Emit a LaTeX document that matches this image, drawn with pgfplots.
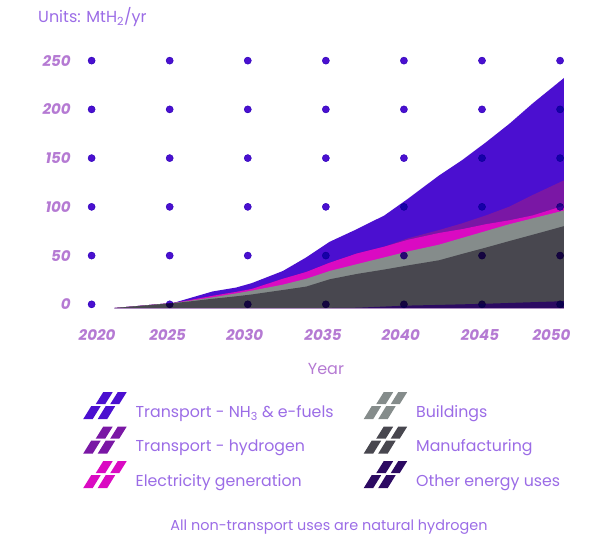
\documentclass[border=0pt]{standalone}
\usepackage{fontspec}
\setmainfont{Poppins}
\usepackage{pgfplots}
\pgfplotsset{compat=1.18}
\definecolor{nh3}{HTML}{4B0FD0}
\definecolor{th2}{HTML}{7A17A5}
\definecolor{elec}{HTML}{DA0AC2}
\definecolor{bld}{HTML}{858C8B}
\definecolor{man}{HTML}{48474F}
\definecolor{oth}{HTML}{2C0A62}
\definecolor{tickc}{HTML}{B57AD3}
\definecolor{textc}{HTML}{9B6CE6}
\definecolor{dotc}{HTML}{4B0FD0}
\pgfplotsset{
  h2icon/.style={legend image code/.code={
    \fill (0pt,-7pt) -- (9.5pt,-7pt) -- (17.5pt,6pt) -- (8pt,6pt) -- cycle;
    \fill (14.5pt,-7pt) -- (24pt,-7pt) -- (32pt,6pt) -- (22.5pt,6pt) -- cycle;
    \fill (12.5pt,8pt) -- (22pt,8pt) -- (29.5pt,20pt) -- (20pt,20pt) -- cycle;
    \fill (27pt,8pt) -- (36pt,8pt) -- (43.5pt,20pt) -- (34.5pt,20pt) -- cycle;
  }}
}
\begin{document}
\begin{tikzpicture}[x=1pt,y=1pt]
\useasboundingbox (0,0) rectangle (612,548);
\begin{axis}[
  at={(79.9pt,235.1pt)}, anchor=south west,
  scale only axis, width=499.7pt, height=258.3pt,
  xmin=2019, xmax=2051, ymin=-5, ymax=260,
  axis line style={draw=none}, tick style={draw=none}, major tick length=0pt,
  xtick={2020.1,2024.62,2029.55,2034.57,2039.54,2044.62,2049.2},
  xticklabels={2020,2025,2030,2035,2040,2045,2050},
  ytick={3.8,53.8,103.8,153.8,203.8,253.8},
  yticklabels={0,50,100,150,200,250},
  ticklabel style={font=\fontsize{15}{15}\selectfont\bfseries\itshape, text=tickc},
  xticklabel style={anchor=base, inner sep=0pt, yshift=-28pt},
  yticklabel style={anchor=east, inner sep=0pt, xshift=-9pt},
  clip=false,
  legend columns=2,
  legend style={at={(0.0062,-0.306)}, anchor=north west, draw=none, fill=none,
    inner sep=0pt, nodes={inner sep=0pt, text=textc, font=\fontsize{15.8}{18}\selectfont},
    column sep=9pt, row sep=7.5pt},
  legend cell align=left,
]
% cumulative tops, drawn from the tallest down
\addplot[fill=nh3, draw=none, forget plot] table {
x y
2021.2 0
2025 5.3
2026 10
2027.5 17
2029 21
2030 25.5
2032 38
2033.5 52
2035 68
2036.75 81
2038.5 95
2040 112
2042 136
2043.5 152
2045 170
2046.5 189
2048 210
2050 236
} \closedcycle;
\addplot[fill=th2, draw=none, forget plot] table {
x y
2021.2 0
2025 5.3
2026 8
2027.5 12.5
2029 16.5
2030 19.5
2032 30
2033.5 37
2035 46.5
2036.75 56
2038.5 63
2040 71.5
2042 80
2043.5 87
2045 95
2046.5 104
2048 116
2050 131
} \closedcycle;
\addplot[fill=elec, draw=none, forget plot] table {
x y
2021.2 0
2025 5.3
2026 8
2027.5 12.5
2029 16.5
2030 19.5
2032 30
2033.5 37
2035 46.5
2036.75 56
2038.5 63
2040 70
2042 77
2043.5 81
2045 86
2046.5 90
2048 95
2050 105
} \closedcycle;
\addplot[fill=bld, draw=none, forget plot] table {
x y
2021.2 0
2025 5.3
2026 7.3
2027.5 11
2029 15
2030 17.8
2032 24
2033.5 30
2035 38
2036.75 45
2038.5 52
2040 58
2042 65
2043.5 72
2045 79
2046.5 86
2048 92
2050 100
} \closedcycle;
\addplot[fill=man, draw=none, forget plot] table {
x y
2021.2 0
2025 5
2026 6.7
2027.5 9.5
2029 12
2030 13.9
2032 18.5
2033.5 22
2035 29.5
2036.75 35
2038.5 39.5
2040 43.7
2042 49
2043.5 55.6
2045 62
2046.5 68.7
2048 75.2
2050 84
} \closedcycle;
\addplot[fill=oth, draw=none, forget plot] table {
x y
2021.2 0
2035 0
2036.75 0.3
2038.5 1.5
2040 2.5
2042 3.2
2043.5 3.8
2045 4.4
2046.5 5.2
2048 6
2050 7
} \closedcycle;
% dot grid
\addplot[only marks, mark=*, mark size=3.6pt, color=dotc, blend mode=multiply, forget plot] coordinates {
(2019.75,3.8) (2024.75,3.8) (2029.75,3.8) (2034.75,3.8) (2039.75,3.8) (2044.75,3.8) (2049.75,3.8)
(2019.75,53.8) (2024.75,53.8) (2029.75,53.8) (2034.75,53.8) (2039.75,53.8) (2044.75,53.8) (2049.75,53.8)
(2019.75,103.8) (2024.75,103.8) (2029.75,103.8) (2034.75,103.8) (2039.75,103.8) (2044.75,103.8) (2049.75,103.8)
(2019.75,153.8) (2024.75,153.8) (2029.75,153.8) (2034.75,153.8) (2039.75,153.8) (2044.75,153.8) (2049.75,153.8)
(2019.75,203.8) (2024.75,203.8) (2029.75,203.8) (2034.75,203.8) (2039.75,203.8) (2044.75,203.8) (2049.75,203.8)
(2019.75,253.8) (2024.75,253.8) (2029.75,253.8) (2034.75,253.8) (2039.75,253.8) (2044.75,253.8) (2049.75,253.8)
};
\addlegendimage{fill=nh3, draw=none, h2icon}
\addlegendentry{\makebox[219pt][l]{Transport - NH\textsubscript{3} \& e-fuels}}
\addlegendimage{fill=bld, draw=none, h2icon}
\addlegendentry{Buildings}
\addlegendimage{fill=th2, draw=none, h2icon}
\addlegendentry{\makebox[219pt][l]{Transport - hydrogen}}
\addlegendimage{fill=man, draw=none, h2icon}
\addlegendentry{Manufacturing}
\addlegendimage{fill=elec, draw=none, h2icon}
\addlegendentry{\makebox[219pt][l]{Electricity generation}}
\addlegendimage{fill=oth, draw=none, h2icon}
\addlegendentry{Other energy uses}
\end{axis}
\node[anchor=base west, inner sep=0pt, text=textc, font=\fontsize{16}{16}\selectfont] at (38,525.3) {Units: MtH\textsubscript{2}/yr};
\node[anchor=base, inner sep=0pt, text=tickc, font=\fontsize{16}{16}\selectfont] at (326,173) {Year};
\node[anchor=base, inner sep=0pt, text=textc, font=\fontsize{14.4}{15}\selectfont] at (329,18) {All non-transport uses are natural hydrogen};
\end{tikzpicture}
\end{document}
